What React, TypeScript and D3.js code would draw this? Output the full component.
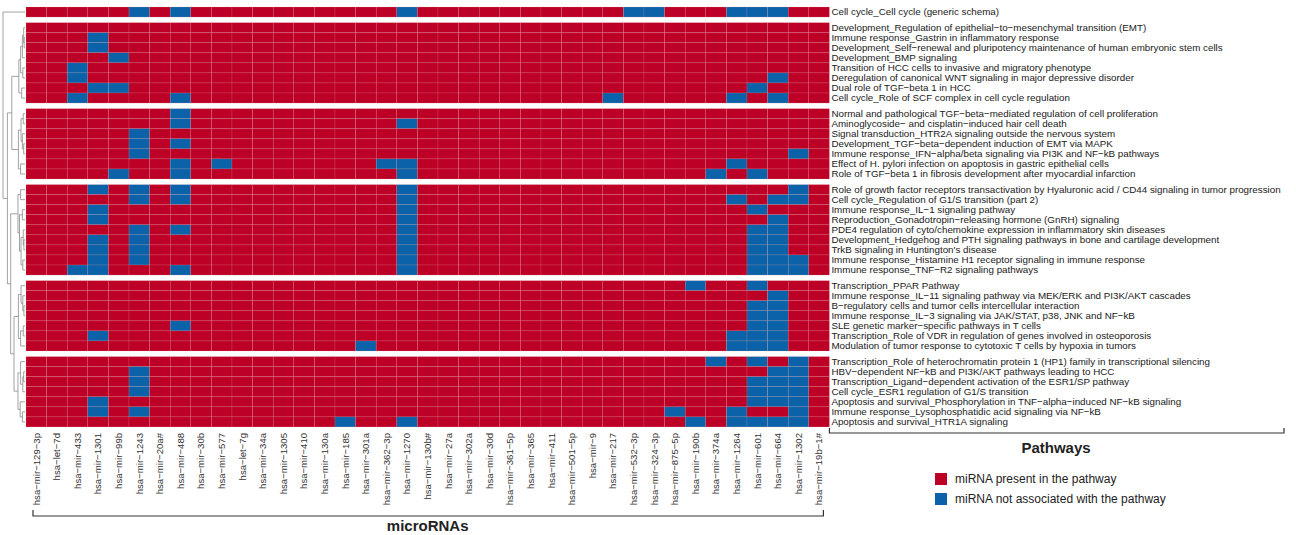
import React from "react";
import * as d3 from "d3";

const microRNAs = [
  "hsa-mir-129-3p", "hsa-let-7d", "hsa-mir-433", "hsa-mir-1301", "hsa-mir-99b", "hsa-mir-1243",
  "hsa-mir-20a#", "hsa-mir-488", "hsa-mir-30b", "hsa-mir-577", "hsa-let-7g", "hsa-mir-34a",
  "hsa-mir-1305", "hsa-mir-410", "hsa-mir-130a", "hsa-mir-185", "hsa-mir-301a", "hsa-mir-362-3p",
  "hsa-mir-1270", "hsa-mir-130b#", "hsa-mir-27a", "hsa-mir-302a", "hsa-mir-30d", "hsa-mir-361-5p",
  "hsa-mir-365", "hsa-mir-411", "hsa-mir-501-5p", "hsa-mir-9", "hsa-mir-217", "hsa-mir-532-3p",
  "hsa-mir-324-3p", "hsa-mir-875-5p", "hsa-mir-190b", "hsa-mir-374a", "hsa-mir-1264", "hsa-mir-601",
  "hsa-mir-664", "hsa-mir-1302", "hsa-mir-19b-1#",
];

const pathways = [
  "Cell cycle_Cell cycle (generic schema)",
  "Development_Regulation of epithelial-to-mesenchymal transition (EMT)",
  "Immune response_Gastrin in inflammatory response",
  "Development_Self-renewal and pluripotency maintenance of human embryonic stem cells",
  "Development_BMP signaling",
  "Transition of HCC cells to invasive and migratory phenotype",
  "Deregulation of canonical WNT signaling in major depressive disorder",
  "Dual role of TGF-beta 1 in HCC",
  "Cell cycle_Role of SCF complex in cell cycle regulation",
  "Normal and pathological TGF-beta-mediated regulation of cell proliferation",
  "Aminoglycoside- and cisplatin-induced hair cell death",
  "Signal transduction_HTR2A signaling outside the nervous system",
  "Development_TGF-beta-dependent induction of EMT via MAPK",
  "Immune response_IFN-alpha/beta signaling via PI3K and NF-kB pathways",
  "Effect of H. pylori infection on apoptosis in gastric epithelial cells",
  "Role of TGF-beta 1 in fibrosis development after myocardial infarction",
  "Role of growth factor receptors transactivation by Hyaluronic acid / CD44 signaling in tumor progression",
  "Cell cycle_Regulation of G1/S transition (part 2)",
  "Immune response_IL-1 signaling pathway",
  "Reproduction_Gonadotropin-releasing hormone (GnRH) signaling",
  "PDE4 regulation of cyto/chemokine expression in inflammatory skin diseases",
  "Development_Hedgehog and PTH signaling pathways in bone and cartilage development",
  "TrkB signaling in Huntington's disease",
  "Immune response_Histamine H1 receptor signaling in immune response",
  "Immune response_TNF-R2 signaling pathways",
  "Transcription_PPAR Pathway",
  "Immune response_IL-11 signaling pathway via MEK/ERK and PI3K/AKT cascades",
  "B-regulatory cells and tumor cells intercellular interaction",
  "Immune response_IL-3 signaling via JAK/STAT, p38, JNK and NF-kB",
  "SLE genetic marker-specific pathways in T cells",
  "Transcription_Role of VDR in regulation of genes involved in osteoporosis",
  "Modulation of tumor response to cytotoxic T cells by hypoxia in tumors",
  "Transcription_Role of heterochromatin protein 1 (HP1) family in transcriptional silencing",
  "HBV-dependent NF-kB and PI3K/AKT pathways leading to HCC",
  "Transcription_Ligand-dependent activation of the ESR1/SP pathway",
  "Cell cycle_ESR1 regulation of G1/S transition",
  "Apoptosis and survival_Phosphorylation in TNF-alpha-induced NF-kB signaling",
  "Immune response_Lysophosphatidic acid signaling via NF-kB",
  "Apoptosis and survival_HTR1A signaling",
];

const groupSizes = [1, 8, 7, 9, 7, 7];

// microRNAs NOT associated with each pathway (blue cells); all others are present (red)
const notAssociated: string[][] = [
  ["hsa-mir-1243", "hsa-mir-488", "hsa-mir-1270", "hsa-mir-532-3p", "hsa-mir-324-3p", "hsa-mir-1264", "hsa-mir-601", "hsa-mir-664"],
  [],
  ["hsa-mir-1301"],
  ["hsa-mir-1301"],
  ["hsa-mir-99b"],
  ["hsa-mir-433"],
  ["hsa-mir-433", "hsa-mir-664"],
  ["hsa-mir-1301", "hsa-mir-99b", "hsa-mir-601"],
  ["hsa-mir-433", "hsa-mir-488", "hsa-mir-217", "hsa-mir-1264", "hsa-mir-664"],
  ["hsa-mir-488"],
  ["hsa-mir-488", "hsa-mir-1270"],
  ["hsa-mir-1243"],
  ["hsa-mir-1243", "hsa-mir-488"],
  ["hsa-mir-1243", "hsa-mir-1302"],
  ["hsa-mir-488", "hsa-mir-577", "hsa-mir-362-3p", "hsa-mir-1270", "hsa-mir-1264"],
  ["hsa-mir-99b", "hsa-mir-488", "hsa-mir-1270", "hsa-mir-374a", "hsa-mir-601"],
  ["hsa-mir-1301", "hsa-mir-1243", "hsa-mir-488", "hsa-mir-1270", "hsa-mir-1302"],
  ["hsa-mir-1243", "hsa-mir-488", "hsa-mir-1270", "hsa-mir-1264", "hsa-mir-664", "hsa-mir-1302"],
  ["hsa-mir-1301", "hsa-mir-1270", "hsa-mir-601"],
  ["hsa-mir-1301", "hsa-mir-1270", "hsa-mir-664"],
  ["hsa-mir-1243", "hsa-mir-488", "hsa-mir-1270", "hsa-mir-601", "hsa-mir-664"],
  ["hsa-mir-1301", "hsa-mir-1243", "hsa-mir-1270", "hsa-mir-601", "hsa-mir-664"],
  ["hsa-mir-1301", "hsa-mir-1243", "hsa-mir-1270", "hsa-mir-601", "hsa-mir-664"],
  ["hsa-mir-1301", "hsa-mir-1243", "hsa-mir-1270", "hsa-mir-601", "hsa-mir-664", "hsa-mir-1302"],
  ["hsa-mir-433", "hsa-mir-1301", "hsa-mir-488", "hsa-mir-1270", "hsa-mir-601", "hsa-mir-664", "hsa-mir-1302"],
  ["hsa-mir-190b", "hsa-mir-601"],
  ["hsa-mir-664"],
  ["hsa-mir-601", "hsa-mir-664"],
  ["hsa-mir-601", "hsa-mir-664"],
  ["hsa-mir-488", "hsa-mir-601", "hsa-mir-664"],
  ["hsa-mir-1301", "hsa-mir-1264", "hsa-mir-601", "hsa-mir-664"],
  ["hsa-mir-301a", "hsa-mir-1264", "hsa-mir-601", "hsa-mir-664"],
  ["hsa-mir-374a", "hsa-mir-601", "hsa-mir-1302"],
  ["hsa-mir-1243", "hsa-mir-664", "hsa-mir-1302"],
  ["hsa-mir-1243", "hsa-mir-601", "hsa-mir-664", "hsa-mir-1302"],
  ["hsa-mir-1243", "hsa-mir-601", "hsa-mir-664", "hsa-mir-1302"],
  ["hsa-mir-1301", "hsa-mir-601", "hsa-mir-664", "hsa-mir-1302"],
  ["hsa-mir-1301", "hsa-mir-1243", "hsa-mir-875-5p", "hsa-mir-1264", "hsa-mir-1302"],
  ["hsa-mir-185", "hsa-mir-1270", "hsa-mir-190b", "hsa-mir-1264", "hsa-mir-601", "hsa-mir-664", "hsa-mir-1302"],
];

const legendLabels = ["miRNA present in the pathway", "miRNA not associated with the pathway"];
const statusColors = ["#BD0026", "#0B62A8"];

// row dendrogram: [height, left, right] or leaf row index
type TreeNode = number | [number, TreeNode, TreeNode];
const g2: TreeNode = [0.28, [0.2, [0.12, [0.06, 1, [0.04, 2, 3]], 4], [0.1, 5, 6]], [0.15, 7, 8]];
const g3: TreeNode = [0.3, [0.18, [0.08, 9, 10], [0.12, 11, [0.06, 12, 13]]], [0.2, 14, 15]];
const g4: TreeNode = [0.32, [0.2, 16, 17], [0.25, [0.12, 18, 19], [0.18, [0.08, 20, [0.05, 21, 22]], [0.1, 23, 24]]]];
const g5: TreeNode = [0.3, [0.18, 25, [0.1, 26, [0.05, 27, 28]]], [0.2, [0.08, 29, 30], 31]];
const g6: TreeNode = [0.32, [0.2, 32, [0.1, [0.06, 33, 34], 35]], [0.22, 36, [0.12, 37, 38]]];
const rowTree: TreeNode = [1.0, 0, [0.8, [0.6, g2, g3], [0.65, g4, [0.5, g5, g6]]]];

const disp = (s: string) => s.replace(/-/g, "\u2212");

export default function App() {
  const W = 1296, H = 535;
  const x = d3.scaleBand<string>().domain(microRNAs).range([26, 829.4]).padding(0);
  const rowH = 10.05, gap = 5.6, top = 7;
  const groupOf: number[] = [];
  groupSizes.forEach((n, g) => { for (let i = 0; i < n; i++) groupOf.push(g); });
  const rowY = pathways.map((_, i) => top + i * rowH + groupOf[i] * gap);
  const color = d3.scaleOrdinal<number, string>().domain([0, 1]).range(statusColors);

  const hx = d3.scaleLinear().domain([0, 1]).range([25, 3]);
  const lines: { x1: number; y1: number; x2: number; y2: number }[] = [];
  const walk = (n: TreeNode): { x: number; y: number } => {
    if (typeof n === "number") return { x: hx(0), y: rowY[n] + rowH / 2 };
    const a = walk(n[1]), b = walk(n[2]);
    const nx = hx(n[0]);
    lines.push({ x1: nx, y1: a.y, x2: nx, y2: b.y });
    lines.push({ x1: nx, y1: a.y, x2: a.x, y2: a.y });
    lines.push({ x1: nx, y1: b.y, x2: b.x, y2: b.y });
    return { x: nx, y: (a.y + b.y) / 2 };
  };
  walk(rowTree);

  const cells: { r: number; m: string; v: number }[] = [];
  pathways.forEach((_, r) => microRNAs.forEach((m) => cells.push({ r, m, v: notAssociated[r].includes(m) ? 1 : 0 })));

  const hmLeft = x.range()[0], hmRight = x.range()[1];
  const hmBottom = rowY[rowY.length - 1] + rowH;
  const font = "'Liberation Sans', Arial, sans-serif";

  return (
    <svg width={W} height={H} style={{ position: "absolute", left: 0, top: 0, background: "#fff" }} fontFamily={font}>
      <g>
        {cells.map((c, i) => (
          <rect key={i} x={x(c.m)} y={rowY[c.r]} width={x.bandwidth()} height={rowH}
            fill={color(c.v)} stroke="#e8a0aa" strokeOpacity={0.35} strokeWidth={0.5} />
        ))}
      </g>
      <g stroke="#8a8a8a" strokeWidth={0.8} fill="none">
        {lines.map((l, i) => <line key={i} x1={l.x1} y1={l.y1} x2={l.x2} y2={l.y2} />)}
      </g>
      <g fontSize={9.8} fill="#1a1a1a">
        {pathways.map((p, i) => (
          <text key={i} x={hmRight + 2} y={rowY[i] + rowH / 2} dy="0.35em">{disp(p)}</text>
        ))}
      </g>
      <g fontSize={9.6} fill="#333">
        {microRNAs.map((m) => (
          <text key={m} transform={`translate(${(x(m) as number) + x.bandwidth() / 2},${hmBottom + 6}) rotate(-90)`}
            textAnchor="end" dy="0.35em">{disp(m)}</text>
        ))}
      </g>
      <g stroke="#333" strokeWidth={1.2} fill="none">
        <path d={`M${hmLeft + 7},${510} V${516} H${hmRight - 6} V${510}`} />
        <path d={`M${hmRight},${428} V${433} H${1284} V${428}`} />
      </g>
      <text x={(hmLeft + hmRight) / 2} y={531} textAnchor="middle" fontSize={15} fontWeight="bold" fill="#222">microRNAs</text>
      <text x={1056} y={453} textAnchor="middle" fontSize={15} fontWeight="bold" fill="#222">Pathways</text>
      <g>
        {legendLabels.map((l, i) => (
          <g key={l} transform={`translate(935,${473 + i * 20})`}>
            <rect width={12} height={12} fill={statusColors[i]} />
            <text x={20} y={6} dy="0.35em" fontSize={12} fill="#222">{l}</text>
          </g>
        ))}
      </g>
    </svg>
  );
}
